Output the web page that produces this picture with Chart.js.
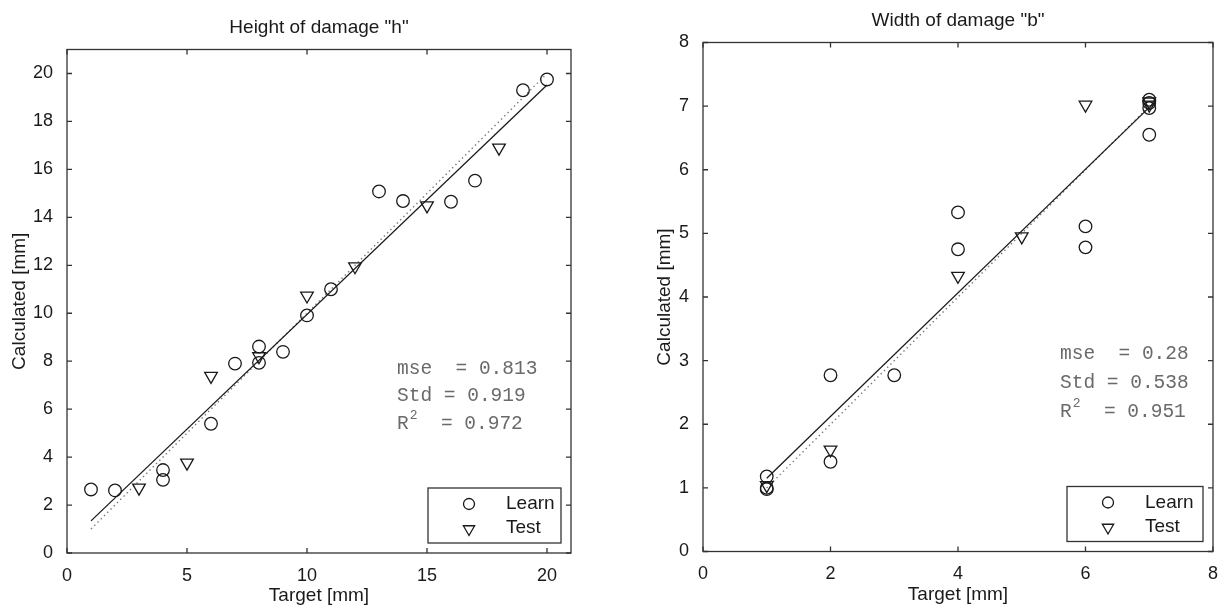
<!DOCTYPE html>
<html>
<head>
<meta charset="utf-8">
<script src="https://cdn.jsdelivr.net/npm/chart.js@4.4.1/dist/chart.umd.min.js"></script>
<style>
  html, body { margin: 0; padding: 0; background: #ffffff; }
  #wrap { position: relative; width: 1224px; height: 606px; overflow: hidden; }
  canvas { position: absolute; top: 0; }
  #cH { left: 0; }
  #cB { left: 612px; }
</style>
</head>
<body>
<div id="wrap">
  <canvas id="cH" width="612" height="606" style="width:612px;height:606px"></canvas>
  <canvas id="cB" width="612" height="606" style="width:612px;height:606px"></canvas>
</div>
<script>
// ---- Height of damage "h" ----
const hTargetLearn = [1, 2, 4, 4, 6, 7, 8, 8, 9, 10, 11, 13, 14, 16, 17, 19, 20];
const hCalcLearn   = [2.65, 2.61, 3.46, 3.05, 5.39, 7.90, 8.61, 7.93, 8.39, 9.91, 11.0, 15.08, 14.68, 14.65, 15.53, 19.30, 19.75];
const hTargetTest  = [3, 5, 6, 8, 10, 12, 15, 18];
const hCalcTest    = [2.72, 3.76, 7.38, 8.20, 10.73, 11.95, 14.49, 16.90];
const hFitX   = [1, 20];
const hFitY   = [1.34, 19.52];
const hIdealX = [1, 20];
const hIdealY = [1, 20];
const hXTicks = [0, 5, 10, 15, 20];
const hYTicks = [0, 2, 4, 6, 8, 10, 12, 14, 16, 18, 20];
const hStats  = ["mse  = 0.813", "Std = 0.919", "0.972"];

// ---- Width of damage "b" ----
const bTargetLearn = [1, 1, 1, 2, 2, 3, 4, 4, 6, 6, 7, 7, 7, 7];
const bCalcLearn   = [1.18, 1.00, 0.98, 2.77, 1.41, 2.77, 5.33, 4.75, 5.11, 4.78, 6.97, 7.05, 7.10, 6.55];
const bTargetTest  = [1, 2, 4, 5, 6, 7, 7];
const bCalcTest    = [1.04, 1.60, 4.33, 4.95, 7.02, 7.07, 7.02];
const bFitX   = [1, 7];
const bFitY   = [1.15, 6.98];
const bIdealX = [1, 7];
const bIdealY = [1, 7];
const bXTicks = [0, 2, 4, 6, 8];
const bYTicks = [0, 1, 2, 3, 4, 5, 6, 7, 8];
const bStats  = ["mse  = 0.28", "Std = 0.538", "0.951"];

const SANS = '"Liberation Sans", Arial, Helvetica, sans-serif';
const MONO = '"Liberation Mono", "Courier New", monospace';
const INK = '#1a1a1a';

function pts(xs, ys) { return xs.map((x, i) => ({ x: x, y: ys[i] })); }

// Box frame, inward ticks on all sides, titles, statistics text and legend
const framePlugin = {
  id: 'frame',
  afterDraw(chart, args, o) {
    const ctx = chart.ctx;
    const a = chart.chartArea;
    const xs = chart.scales.x, ys = chart.scales.y;
    ctx.save();
    ctx.strokeStyle = '#333';
    ctx.lineWidth = 1.3;
    ctx.strokeRect(a.left, a.top, a.right - a.left, a.bottom - a.top);
    const tl = 5;
    ctx.beginPath();
    o.xTicks.forEach(v => {
      const px = xs.getPixelForValue(v);
      ctx.moveTo(px, a.bottom); ctx.lineTo(px, a.bottom - tl);
      ctx.moveTo(px, a.top); ctx.lineTo(px, a.top + tl);
    });
    o.yTicks.forEach(v => {
      const py = ys.getPixelForValue(v);
      ctx.moveTo(a.left, py); ctx.lineTo(a.left + tl, py);
      ctx.moveTo(a.right, py); ctx.lineTo(a.right - tl, py);
    });
    ctx.stroke();

    // title and axis labels
    ctx.fillStyle = INK;
    ctx.font = '19px ' + SANS;
    ctx.textAlign = 'center';
    ctx.textBaseline = 'middle';
    const cx = (a.left + a.right) / 2, cy = (a.top + a.bottom) / 2;
    ctx.fillText(o.title, cx, a.top - 22);
    ctx.fillText(o.xLabel, cx, a.bottom + 43);
    ctx.save();
    ctx.translate(a.left - o.yLabelOffset, cy);
    ctx.rotate(-Math.PI / 2);
    ctx.fillText(o.yLabel, 0, 0);
    ctx.restore();

    // statistics block
    ctx.fillStyle = '#6a6a6a';
    ctx.textAlign = 'left';
    ctx.font = '19.5px ' + MONO;
    const sx = a.left + o.statsDx;
    const rows = o.statsRows.map(r => a.top + r);
    ctx.fillText(o.stats[0], sx, rows[0]);
    ctx.fillText(o.stats[1], sx, rows[1]);
    ctx.fillText('R', sx, rows[2]);
    const rw = ctx.measureText('R').width;
    ctx.font = '13px ' + MONO;
    ctx.fillText('2', sx + rw + 1, rows[2] - 8);
    const sw = ctx.measureText('2').width;
    ctx.font = '19.5px ' + MONO;
    ctx.fillText('  = ' + o.stats[2], sx + rw + sw + 1, rows[2]);

    // legend
    const lw = o.legendW, lh = 55;
    const lx = a.right - 10 - lw, ly = a.bottom - 10 - lh;
    ctx.fillStyle = '#ffffff';
    ctx.fillRect(lx, ly, lw, lh);
    ctx.strokeStyle = '#333';
    ctx.lineWidth = 1.3;
    ctx.strokeRect(lx, ly, lw, lh);
    const mx = lx + 41;
    ctx.strokeStyle = INK;
    ctx.lineWidth = 1.3;
    ctx.beginPath();
    ctx.arc(mx, ly + 16, 5.5, 0, Math.PI * 2);
    ctx.stroke();
    const ty = ly + 41, r = 6.5;
    ctx.beginPath();
    ctx.moveTo(mx, ty + r);
    ctx.lineTo(mx - r * 0.866, ty - r * 0.5);
    ctx.lineTo(mx + r * 0.866, ty - r * 0.5);
    ctx.closePath();
    ctx.stroke();
    ctx.fillStyle = INK;
    ctx.font = '19px ' + SANS;
    ctx.textAlign = 'left';
    ctx.fillText('Learn', lx + 78, ly + 16);
    ctx.fillText('Test', lx + 78, ly + 40);
    ctx.restore();
  }
};

function makeChart(id, cfg) {
  return new Chart(document.getElementById(id), {
    type: 'scatter',
    data: {
      datasets: [
        {
          label: 'Learn', data: pts(cfg.learnX, cfg.learnY),
          pointStyle: 'circle', pointRadius: 6.3, pointBorderWidth: 1.3,
          borderColor: INK, backgroundColor: 'rgba(0,0,0,0)', order: 3
        },
        {
          label: 'Test', data: pts(cfg.testX, cfg.testY),
          pointStyle: 'triangle', pointRotation: 180, pointRadius: 7.3, pointBorderWidth: 1.3,
          borderColor: INK, backgroundColor: 'rgba(0,0,0,0)', order: 2
        },
        {
          label: 'fit', type: 'line', data: pts(cfg.fitX, cfg.fitY),
          borderColor: INK, borderWidth: 1.3, pointRadius: 0, fill: false, order: 1
        },
        {
          label: 'ideal', type: 'line', data: pts(cfg.idealX, cfg.idealY),
          borderColor: '#777', borderWidth: 1.4, borderDash: [1.4, 3.2], pointRadius: 0, fill: false, order: 4
        }
      ]
    },
    options: {
      responsive: false,
      animation: false,
      devicePixelRatio: 1,
      layout: { padding: { top: cfg.padTop, right: cfg.padRight, left: 0, bottom: 0 } },
      plugins: {
        legend: { display: false },
        tooltip: { enabled: false },
        frame: {
          title: cfg.title, xLabel: 'Target [mm]', yLabel: 'Calculated [mm]',
          yLabelOffset: cfg.yLabelOffset, xTicks: cfg.xTicks, yTicks: cfg.yTicks,
          stats: cfg.stats, statsDx: cfg.statsDx, statsRows: cfg.statsRows, legendW: cfg.legendW
        }
      },
      scales: {
        x: {
          type: 'linear', min: cfg.xMin, max: cfg.xMax,
          grid: { display: false },
          border: { display: false },
          afterBuildTicks: s => { s.ticks = cfg.xTicks.map(v => ({ value: v })); },
          afterFit: s => { s.height = cfg.xAxisH; },
          ticks: { color: INK, font: { family: SANS, size: 18 }, padding: 4, maxRotation: 0 }
        },
        y: {
          type: 'linear', min: cfg.yMin, max: cfg.yMax,
          grid: { display: false },
          border: { display: false },
          afterBuildTicks: s => { s.ticks = cfg.yTicks.map(v => ({ value: v })); },
          afterFit: s => { s.width = cfg.yAxisW; },
          ticks: { color: INK, font: { family: SANS, size: 18 }, padding: 6 }
        }
      }
    },
    plugins: [framePlugin]
  });
}

makeChart('cH', {
  title: 'Height of damage "h"',
  learnX: hTargetLearn, learnY: hCalcLearn, testX: hTargetTest, testY: hCalcTest,
  fitX: hFitX, fitY: hFitY, idealX: hIdealX, idealY: hIdealY,
  xTicks: hXTicks, yTicks: hYTicks, xMin: 0, xMax: 21, yMin: 0, yMax: 21,
  stats: hStats, statsDx: 330, statsRows: [319, 346.5, 374],
  padTop: 49.5, padRight: 41, xAxisH: 53, yAxisW: 67, yLabelOffset: 47, legendW: 133
});

makeChart('cB', {
  title: 'Width of damage "b"',
  learnX: bTargetLearn, learnY: bCalcLearn, testX: bTargetTest, testY: bCalcTest,
  fitX: bFitX, fitY: bFitY, idealX: bIdealX, idealY: bIdealY,
  xTicks: bXTicks, yTicks: bYTicks, xMin: 0, xMax: 8, yMin: 0, yMax: 8,
  stats: bStats, statsDx: 357, statsRows: [311.5, 340.5, 369.5],
  padTop: 42.5, padRight: 11, xAxisH: 54.5, yAxisW: 91, yLabelOffset: 38, legendW: 136
});
</script>
</body>
</html>
